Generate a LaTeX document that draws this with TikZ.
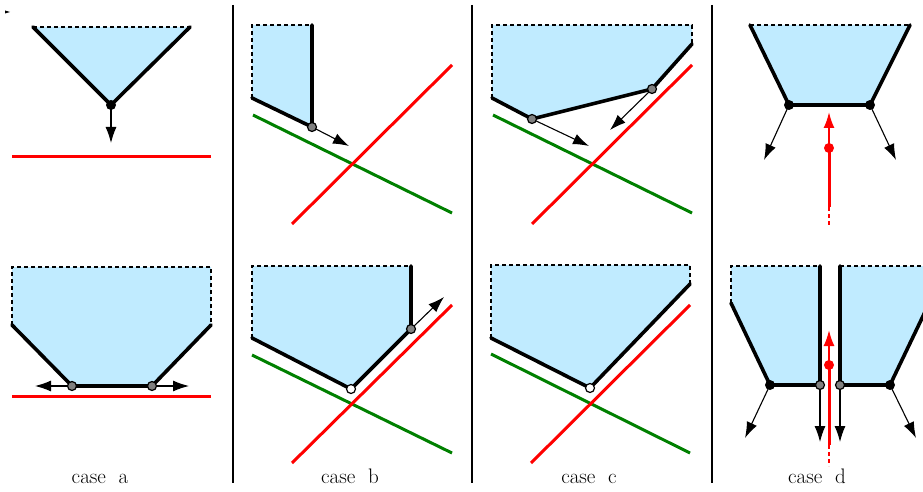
\documentclass[tikz,border=0pt]{standalone}
\usetikzlibrary{arrows.meta}
\definecolor{fillblue}{RGB}{192,235,255}
\definecolor{dgreen}{RGB}{0,128,0}
\begin{document}
\begin{tikzpicture}[x=1pt,y=-1pt,
 region/.style={fill=fillblue,draw=none},
 wall/.style={line width=3.6pt,line cap=round,line join=round},
 open/.style={line width=1.5pt,dash pattern=on 4pt off 3pt},
 redline/.style={red,line width=3pt},
 greenline/.style={dgreen,line width=3pt},
 move/.style={line width=1.1pt,-{Latex[length=16pt,width=11pt]}},
 redmove/.style={red,line width=2pt,-{Latex[length=16pt,width=11pt]}},
 reddash/.style={red,line width=1.5pt,dash pattern=on 4pt off 3pt},
 blackdot/.style={circle,fill=black,inner sep=0pt,minimum size=10pt},
 graydot/.style={circle,fill=gray,draw=black,line width=1.2pt,inner sep=0pt,minimum size=9pt},
 whitedot/.style={circle,fill=white,draw=black,line width=1.2pt,inner sep=0pt,minimum size=9pt},
 reddot/.style={circle,fill=red,inner sep=0pt,minimum size=10pt},
 sepline/.style={line width=1.5pt},
 lab/.style={font=\fontsize{21}{25}\selectfont,anchor=base}
]
\useasboundingbox (0,0) rectangle (923,492);
\clip (0,0) rectangle (923,492);

% tiny mark
\fill (5,10.5) -- (10,12) -- (5,13.5) -- cycle;

% separators
\coordinate (s1t) at (233,5); \coordinate (s1b) at (233,483);
\coordinate (s2t) at (472,5); \coordinate (s2b) at (472,483);
\coordinate (s3t) at (712,5); \coordinate (s3b) at (712,483);
\draw[sepline] (s1t) -- (s1b);
\draw[sepline] (s2t) -- (s2b);
\draw[sepline] (s3t) -- (s3b);

% ===== case a top
\coordinate (a1) at (33,27); \coordinate (a2) at (190,27); \coordinate (a3) at (111,105);
\fill[region] (a1) -- (a2) -- (a3) -- cycle;
\draw[open] (a1) -- (a2);
\draw[wall] (a1) -- (a3) -- (a2);
\coordinate (a3m) at (111,143);
\draw[move] (a3) -- (a3m);
\coordinate (ar1) at (12,156); \coordinate (ar2) at (211,156);
\draw[redline] (ar1) -- (ar2);
\node[blackdot] (a3d) at (a3) {};

% ===== case a bottom
\coordinate (b1) at (12,267); \coordinate (b2) at (211,267);
\coordinate (b3) at (211,325); \coordinate (b4) at (152,386);
\coordinate (b5) at (72,386); \coordinate (b6) at (12,325);
\fill[region] (b1) -- (b2) -- (b3) -- (b4) -- (b5) -- (b6) -- cycle;
\draw[open] (b6) -- (b1) -- (b2) -- (b3);
\draw[wall] (b6) -- (b5) -- (b4) -- (b3);
\coordinate (b5m) at (35,386); \coordinate (b4m) at (189,386);
\draw[move] (b5) -- (b5m);
\draw[move] (b4) -- (b4m);
\coordinate (br1) at (12,396); \coordinate (br2) at (211,396);
\draw[redline] (br1) -- (br2);
\node[graydot] (b5d) at (b5) {};
\node[graydot] (b4d) at (b4) {};
\node[lab] (la) at (100,483) {case\ \ a};

% ===== case b top
\coordinate (c1) at (252,25); \coordinate (c2) at (312,25);
\coordinate (c3) at (312,127); \coordinate (c4) at (252,98);
\fill[region] (c1) -- (c2) -- (c3) -- (c4) -- cycle;
\draw[open] (c4) -- (c1) -- (c2);
\draw[wall] (c4) -- (c3) -- (c2);
\coordinate (cg1) at (253,115); \coordinate (cg2) at (452,213);
\coordinate (cr1) at (292,224); \coordinate (cr2) at (452,65);
\draw[greenline] (cg1) -- (cg2);
\draw[redline] (cr1) -- (cr2);
\coordinate (c3m) at (349,146);
\draw[move] (c3) -- (c3m);
\node[graydot] (c3d) at (c3) {};

% ===== case b bottom
\coordinate (d1) at (252,266); \coordinate (d2) at (411,266);
\coordinate (d3) at (411,329); \coordinate (d4) at (351,389);
\coordinate (d5) at (252,338);
\fill[region] (d1) -- (d2) -- (d3) -- (d4) -- (d5) -- cycle;
\draw[open] (d5) -- (d1) -- (d2);
\draw[wall] (d5) -- (d4) -- (d3) -- (d2);
\coordinate (dg1) at (252,355); \coordinate (dg2) at (452,453);
\coordinate (dr1) at (292,463); \coordinate (dr2) at (452,305);
\draw[greenline] (dg1) -- (dg2);
\draw[redline] (dr1) -- (dr2);
\coordinate (d3m) at (444,297);
\draw[move] (d3) -- (d3m);
\node[graydot] (d3d) at (d3) {};
\node[whitedot] (d4d) at (d4) {};
\node[lab] (lb) at (350,483) {case\ \ b};

% ===== case c top
\coordinate (e1) at (492,25); \coordinate (e2) at (692,25);
\coordinate (e3) at (692,44); \coordinate (e4) at (652,89);
\coordinate (e5) at (532,119); \coordinate (e6) at (492,98);
\fill[region] (e1) -- (e2) -- (e3) -- (e4) -- (e5) -- (e6) -- cycle;
\draw[open] (e6) -- (e1) -- (e2) -- (e3);
\draw[wall] (e6) -- (e5) -- (e4) -- (e3);
\coordinate (eg1) at (493,115); \coordinate (eg2) at (692,213);
\coordinate (er1) at (532,224); \coordinate (er2) at (692,65);
\draw[greenline] (eg1) -- (eg2);
\draw[redline] (er1) -- (er2);
\coordinate (e5m) at (589,146); \coordinate (e4m) at (610,130);
\draw[move] (e5) -- (e5m);
\draw[move] (e4) -- (e4m);
\node[graydot] (e5d) at (e5) {};
\node[graydot] (e4d) at (e4) {};

% ===== case c bottom
\coordinate (f1) at (491,265); \coordinate (f2) at (690,265);
\coordinate (f3) at (690,284); \coordinate (f4) at (590,388);
\coordinate (f5) at (491,338);
\fill[region] (f1) -- (f2) -- (f3) -- (f4) -- (f5) -- cycle;
\draw[open] (f5) -- (f1) -- (f2) -- (f3);
\draw[wall] (f5) -- (f4) -- (f3);
\coordinate (fg1) at (491,354); \coordinate (fg2) at (690,453);
\coordinate (fr1) at (531,463); \coordinate (fr2) at (690,305);
\draw[greenline] (fg1) -- (fg2);
\draw[redline] (fr1) -- (fr2);
\node[whitedot] (f4d) at (f4) {};
\node[lab] (lc) at (589,483) {case\ \ c};

% ===== case d top
\coordinate (g1) at (750,25); \coordinate (g2) at (910,25);
\coordinate (g3) at (870,105); \coordinate (g4) at (789,105);
\fill[region] (g1) -- (g2) -- (g3) -- (g4) -- cycle;
\draw[open] (g1) -- (g2);
\draw[wall] (g1) -- (g4) -- (g3) -- (g2);
\coordinate (g4m) at (764,160); \coordinate (g3m) at (896,160);
\draw[move] (g4) -- (g4m);
\draw[move] (g3) -- (g3m);
\node[blackdot] (g4d) at (g4) {};
\node[blackdot] (g3d) at (g3) {};
\coordinate (gr) at (829,148); \coordinate (grt) at (829,112);
\coordinate (grb) at (829,207); \coordinate (grd) at (829,226);
\draw[redline] (gr) -- (grb);
\draw[reddash] (grb) -- (grd);
\draw[redmove] (gr) -- (grt);
\node[reddot] (grd0) at (gr) {};

% ===== case d bottom
\coordinate (h1) at (731,266); \coordinate (h2) at (820,266);
\coordinate (h3) at (820,385); \coordinate (h4) at (770,385);
\coordinate (h5) at (731,303);
\fill[region] (h1) -- (h2) -- (h3) -- (h4) -- (h5) -- cycle;
\draw[open] (h5) -- (h1) -- (h2);
\draw[wall] (h5) -- (h4) -- (h3) -- (h2);
\coordinate (k1) at (840,266); \coordinate (k2) at (935,266);
\coordinate (k3) at (935,291); \coordinate (k4) at (890,385);
\coordinate (k5) at (840,385);
\fill[region] (k1) -- (k2) -- (k3) -- (k4) -- (k5) -- cycle;
\draw[open] (k1) -- (k2);
\draw[wall] (k1) -- (k5) -- (k4) -- (k3);
\coordinate (h4m) at (745,438); \coordinate (h3m) at (820,442);
\coordinate (k5m) at (840,442); \coordinate (k4m) at (916,438);
\draw[move] (h4) -- (h4m);
\draw[move] (h3) -- (h3m);
\draw[move] (k5) -- (k5m);
\draw[move] (k4) -- (k4m);
\node[blackdot] (h4d) at (h4) {};
\node[graydot] (h3d) at (h3) {};
\node[graydot] (k5d) at (k5) {};
\node[blackdot] (k4d) at (k4) {};
\coordinate (hr) at (829,365); \coordinate (hrt) at (829,330);
\coordinate (hrb) at (829,445); \coordinate (hrd) at (829,466);
\draw[redline] (hr) -- (hrb);
\draw[reddash] (hrb) -- (hrd);
\draw[redmove] (hr) -- (hrt);
\node[reddot] (hrd0) at (hr) {};
\node[lab] (ld) at (817,483) {case\ \ d};
\end{tikzpicture}
\end{document}
